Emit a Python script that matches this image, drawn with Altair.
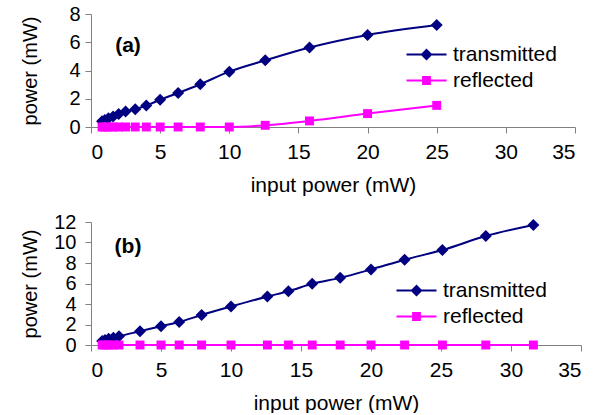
import altair as alt
import pandas as pd

FONT = "Liberation Sans"

series_names = ["transmitted", "reflected"]
series_colors = ["#000080", "#FF00FF"]
marker_shapes = ["diamond", "square"]
marker_sizes = [144, 80]
legend_paths = [
    "M-2,-0.1H2V0.1H-2Z M0,-0.6L0.6,0L0,0.6L-0.6,0Z",
    "M-2,-0.1H2V0.1H-2Z M-0.44,-0.44H0.44V0.44H-0.44Z",
]
x_ticks = [0, 5, 10, 15, 20, 25, 30, 35]

# panel (a)
a_input = [0.8, 1.0, 1.26, 1.6, 2.0, 2.5, 3.2, 4.0, 5.0, 6.3, 7.9, 10.0, 12.6, 15.8, 20.0, 25.0]
a_transmitted = [0.40, 0.50, 0.62, 0.75, 0.92, 1.10, 1.26, 1.52, 1.93, 2.41, 3.03, 3.92, 4.72, 5.63, 6.52, 7.22]
a_reflected = [0.0, 0.0, 0.0, 0.0, 0.0, 0.0, 0.0, 0.0, 0.0, 0.0, 0.0, 0.0, 0.12, 0.43, 0.95, 1.53]
a_yticks = [0, 2, 4, 6, 8]

# panel (b)
b_input = [0.8, 1.0, 1.26, 1.6, 2.0, 3.5, 5.0, 6.3, 7.9, 10.0, 12.6, 14.1, 15.8, 17.8, 20.0, 22.4, 25.1, 28.2, 31.6]
b_transmitted = [0.40, 0.50, 0.62, 0.70, 0.85, 1.34, 1.83, 2.25, 2.93, 3.75, 4.73, 5.25, 5.97, 6.55, 7.37, 8.32, 9.26, 10.63, 11.71]
b_reflected = [0.0, 0.0, 0.0, 0.0, 0.0, 0.0, 0.0, 0.0, 0.0, 0.0, 0.0, 0.0, 0.0, 0.0, 0.0, 0.0, 0.0, 0.0, 0.0]
b_yticks = [0, 2, 4, 6, 8, 10, 12]


def panel(xs, trans, refl, label, yticks, width, height, lab_pad,
          legend_x, legend_y, label_x, label_y):
    df = pd.DataFrame({
        "input": xs + xs,
        "power": trans + refl,
        "series": [series_names[0]] * len(xs) + [series_names[1]] * len(xs),
    })
    x = alt.X("input:Q", scale=alt.Scale(domain=[0, 35], nice=False),
              axis=alt.Axis(values=x_ticks, title="input power (mW)"))
    y = alt.Y("power:Q", scale=alt.Scale(domain=[yticks[0], yticks[-1]], nice=False),
              axis=alt.Axis(values=yticks, title="power (mW)", titleX=-51,
                            labelPadding=lab_pad, labelOverlap=False,
                            labelFontSize=20))
    cscale = alt.Scale(domain=series_names, range=series_colors)
    color_plain = alt.Color("series:N", scale=cscale, legend=None)

    lines = alt.Chart(df).mark_line(strokeWidth=2, interpolate="monotone").encode(
        x=x, y=y, color=color_plain)
    points = alt.Chart(df).mark_point(filled=True, opacity=1).encode(
        x=x, y=y, color=color_plain,
        shape=alt.Shape("series:N", scale=alt.Scale(domain=series_names, range=marker_shapes), legend=None),
        size=alt.Size("series:N", scale=alt.Scale(domain=series_names, range=marker_sizes), legend=None),
    )

    def leg():
        return alt.Legend(title=None, orient="none", legendX=legend_x, legendY=legend_y,
                          symbolSize=400, symbolStrokeWidth=0, labelFontSize=21,
                          labelFont=FONT, labelColor="black", labelOffset=16,
                          rowPadding=4, padding=0, labelLimit=300)

    legend_layer = alt.Chart(df).transform_filter("false").mark_point(filled=True, opacity=1).encode(
        x=x, y=y,
        color=alt.Color("series:N", scale=cscale, legend=leg()),
        shape=alt.Shape("series:N", scale=alt.Scale(domain=series_names, range=legend_paths), legend=leg()),
    )

    text = alt.Chart(pd.DataFrame({"t": [label]})).mark_text(
        font=FONT, fontSize=21, fontWeight="bold", align="center", baseline="middle", color="black"
    ).encode(x=alt.value(label_x), y=alt.value(label_y), text="t:N")

    return alt.layer(lines, points, legend_layer, text).resolve_scale(
        color="independent", shape="independent", size="independent"
    ).properties(width=width, height=height)


pa = panel(a_input, a_transmitted, a_reflected, "(a)", a_yticks, 484, 113, 5,
           325, 30, 37, 32)
pb = panel(b_input, b_transmitted, b_reflected, "(b)", b_yticks, 490, 123, 9,
           315, 58, 37, 25)

chart = alt.vconcat(pa, pb, spacing=17).properties(
    padding={"left": 20, "top": 4, "right": 0, "bottom": 0}
).configure_view(stroke=None).configure_axis(
    labelFont=FONT, titleFont=FONT, labelFontSize=21, titleFontSize=20,
    titleFontWeight="normal", labelColor="black", titleColor="black",
    domainColor="#808080", tickColor="#808080", grid=False, tickSize=6,
    domainWidth=1, tickWidth=1,
).configure_axisX(labelPadding=8, titlePadding=12, titleFontSize=21)

chart.save("out.html", embed_options={"renderer": "svg", "actions": False})
